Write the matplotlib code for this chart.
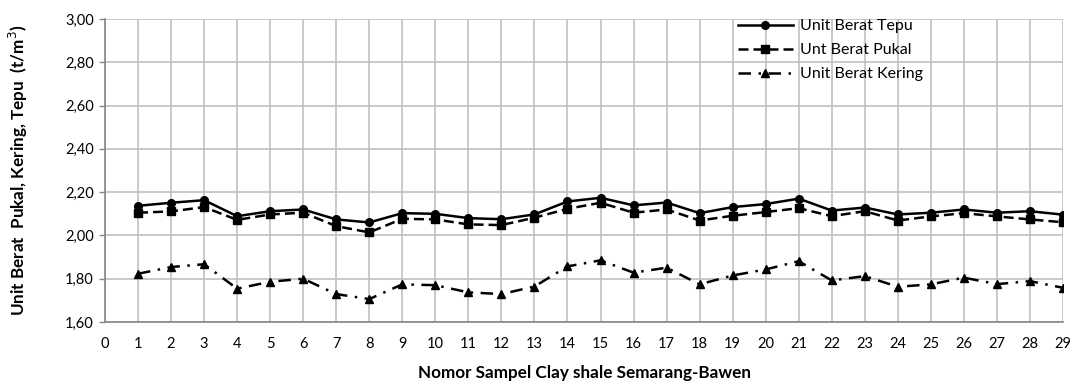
import numpy as np
import matplotlib
matplotlib.use('Agg')
from matplotlib import pyplot as plt

plt.rcParams['font.family'] = ['Lato', 'DejaVu Sans']

# sample numbers along the x axis
sampel = np.arange(1, 30)

# unit weights (t/m3)
tepu = [2.137, 2.151, 2.163, 2.089, 2.112, 2.120, 2.074, 2.060, 2.103, 2.100,
        2.080, 2.075, 2.097, 2.157, 2.174, 2.139, 2.152, 2.103, 2.131, 2.145,
        2.170, 2.115, 2.129, 2.097, 2.105, 2.120, 2.105, 2.112, 2.096]
pukal = [2.105, 2.111, 2.131, 2.072, 2.097, 2.105, 2.043, 2.014, 2.077, 2.074,
         2.051, 2.048, 2.082, 2.123, 2.151, 2.105, 2.120, 2.069, 2.091, 2.108,
         2.126, 2.089, 2.112, 2.069, 2.088, 2.103, 2.088, 2.074, 2.061]
kering = [1.823, 1.854, 1.867, 1.754, 1.786, 1.800, 1.729, 1.706, 1.774, 1.770,
          1.737, 1.729, 1.764, 1.857, 1.885, 1.828, 1.851, 1.774, 1.815, 1.843,
          1.881, 1.792, 1.812, 1.763, 1.774, 1.805, 1.775, 1.789, 1.758]

x_ticks = list(range(0, 30))
y_ticks = [1.60, 1.80, 2.00, 2.20, 2.40, 2.60, 2.80, 3.00]

fig = plt.figure(figsize=(10.78, 3.85), dpi=100)
ax = fig.add_axes([0.0974, 0.1636, 0.8887, 0.787])

ax.plot(sampel, tepu, color='black', lw=1.8, marker='o', ms=5.5,
        label='Unit Berat Tepu', zorder=5)
ax.plot(sampel, pukal, color='black', lw=1.8, ls=(0, (4, 2)), marker='s', ms=5.5,
        label='Unt Berat Pukal', zorder=4)
ax.plot(sampel, kering, color='black', lw=1.8, ls=(0, (5, 3, 1, 3)), marker='^', ms=6,
        label='Unit Berat Kering', zorder=3)

ax.set_xlim(0, 29)
ax.set_ylim(1.60, 3.00)
ax.set_xticks(x_ticks)
ax.set_yticks(y_ticks)
ax.set_yticklabels([f'{v:.2f}'.replace('.', ',') for v in y_ticks])
ax.tick_params(axis='x', length=0, pad=11, labelsize=10.5, colors='black')
ax.tick_params(axis='y', length=4, width=1, color='#868686', pad=4, labelsize=10.5)

ax.grid(True, color='#c0c0c0', lw=1.2)
ax.set_axisbelow(True)
for side in ['top', 'right']:
    ax.spines[side].set_visible(False)
for side in ['left', 'bottom']:
    ax.spines[side].set_color('#868686')
    ax.spines[side].set_linewidth(1.2)

ax.set_xlabel('Nomor Sampel Clay shale Semarang-Bawen', fontsize=12.3,
              fontweight='bold', labelpad=10)
ax.set_ylabel('Unit Berat  Pukal, Kering, Tepu  (t/m$^3$)', fontsize=12.3,
              fontweight='bold', labelpad=25)

ax.legend(loc='upper left', bbox_to_anchor=(0.661, 1.0), frameon=False,
          fontsize=11.5, handlelength=3.4, handletextpad=0.45,
          labelspacing=0.62, borderpad=0, borderaxespad=0)

plt.savefig('out.png', dpi=100)
